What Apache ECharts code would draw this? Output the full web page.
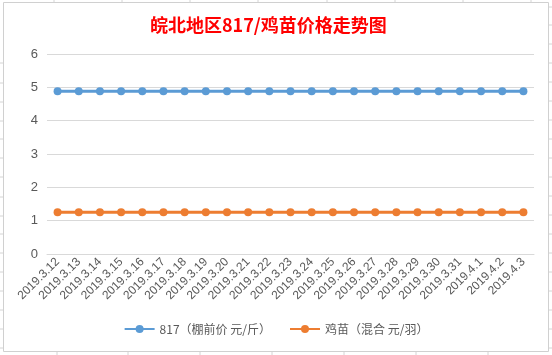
<!DOCTYPE html>
<html><head><meta charset="utf-8">
<script src="https://cdn.jsdelivr.net/npm/echarts@6/dist/echarts.min.js"></script>
<style>html,body{margin:0;padding:0;background:#fff}#c{width:552px;height:355px}</style>
</head><body><div id="c"></div>
<script>
const categories = ["2019.3.12","2019.3.13","2019.3.14","2019.3.15","2019.3.16","2019.3.17","2019.3.18","2019.3.19","2019.3.20","2019.3.21","2019.3.22","2019.3.23","2019.3.24","2019.3.25","2019.3.26","2019.3.27","2019.3.28","2019.3.29","2019.3.30","2019.3.31","2019.4.1","2019.4.2","2019.4.3"];
const price817 = [4.88,4.88,4.88,4.88,4.88,4.88,4.88,4.88,4.88,4.88,4.88,4.88,4.88,4.88,4.88,4.88,4.88,4.88,4.88,4.88,4.88,4.88,4.88];
const chickPrice = [1.25,1.25,1.25,1.25,1.25,1.25,1.25,1.25,1.25,1.25,1.25,1.25,1.25,1.25,1.25,1.25,1.25,1.25,1.25,1.25,1.25,1.25,1.25];
const seriesNames = ["817（棚前价 元/斤）","鸡苗（混合 元/羽）"];
const yTicks = [0,1,2,3,4,5,6];

const chart = echarts.init(document.getElementById('c'));
const font = '"Noto Sans CJK SC","Noto Sans",sans-serif';
const deco = [];
[63,83,102,121,139,158,177,197,216,234,253,272,291,310,329,348].forEach(y=>deco.push({type:'line',shape:{x1:0,y1:y,x2:3,y2:y},style:{stroke:'#d4d4d4',lineWidth:1},silent:true}));
[7,25,44,63,82,101,120,139,158,177,196,215,234,253,272,291,310,329,348].forEach(y=>deco.push({type:'line',shape:{x1:549,y1:y,x2:552,y2:y},style:{stroke:'#d4d4d4',lineWidth:1},silent:true}));
[54,122,190,258,327,395,463,531].forEach(x=>deco.push({type:'line',shape:{x1:x,y1:0,x2:x,y2:2},style:{stroke:'#d4d4d4',lineWidth:1},silent:true}));
[57,128,200,272,344,416,488].forEach(x=>deco.push({type:'line',shape:{x1:x,y1:352,x2:x,y2:355},style:{stroke:'#d4d4d4',lineWidth:1},silent:true}));
deco.push({type:'rect',shape:{x:3.5,y:2.5,width:545,height:349},style:{fill:null,stroke:'#d0d0d0',lineWidth:1},silent:true});

chart.setOption({
  animation:false,
  backgroundColor:'#fff',
  graphic: deco,
  title:{text:'皖北地区817/鸡苗价格走势图',left:145,top:11,
    textStyle:{color:'#ff0000',fontSize:18,fontWeight:'bold',fontFamily:font}},
  legend:{bottom:15,left:'center',itemWidth:30,itemHeight:10,itemGap:18,
    textStyle:{color:'#595959',fontSize:12,fontFamily:font},
    data:seriesNames},
  grid:{left:47,right:18,top:54,bottom:101},
  xAxis:{type:'category',data:categories,boundaryGap:true,
    axisLine:{show:true,lineStyle:{color:'#d9d9d9'}},axisTick:{show:false},
    axisLabel:{rotate:45,color:'#595959',fontSize:12,fontFamily:'"Liberation Sans",sans-serif',interval:0,margin:6}},
  yAxis:{type:'value',min:yTicks[0],max:yTicks[yTicks.length-1],interval:1,
    axisLine:{show:false},axisTick:{show:false},
    axisLabel:{color:'#595959',fontSize:13,fontFamily:'"Liberation Sans",sans-serif',margin:9},
    splitLine:{lineStyle:{color:'#d9d9d9',width:1}}},
  series:[
    {name:seriesNames[0],type:'line',data:price817,symbol:'circle',symbolSize:8,
     itemStyle:{color:'#5b9bd5'},lineStyle:{color:'#5b9bd5',width:3}},
    {name:seriesNames[1],type:'line',data:chickPrice,symbol:'circle',symbolSize:8,
     itemStyle:{color:'#ed7d31'},lineStyle:{color:'#ed7d31',width:3}}
  ]
});
</script></body></html>
